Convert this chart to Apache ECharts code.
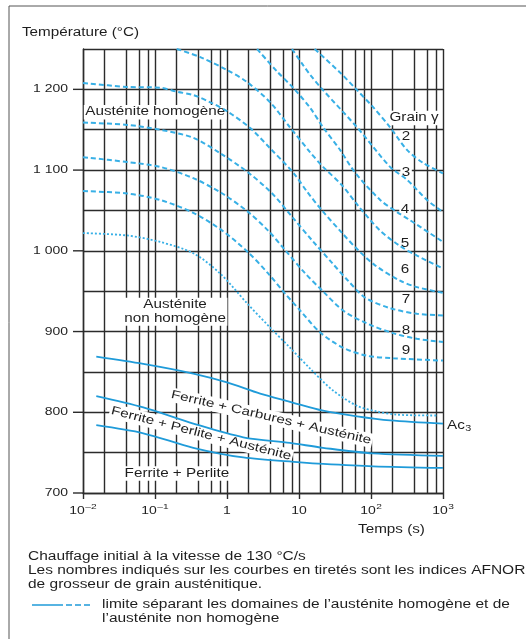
<!DOCTYPE html>
<html>
<head>
<meta charset="utf-8">
<script src="https://cdn.jsdelivr.net/npm/echarts@6/dist/echarts.min.js"></script>
<style>
html,body{margin:0;padding:0;background:#fff;}
#chart{width:526px;height:639px;}
</style>
</head>
<body>
<div id="chart"></div>
<script>
// ---------------- data ----------------
const yTickValues = [700, 800, 900, 1000, 1100, 1200];
const yTickLabels = ['700', '800', '900', '1 000', '1 100', '1 200'];
const xTickValues = [0.01, 0.1, 1, 10, 100, 1000];
const xTickBase = ['10', '10', '1', '10', '10', '10'];
const xTickExp = ['\u20132', '\u20131', '', '', '2', '3'];
const minorGridX = [0.02, 0.04, 0.06, 0.08, 0.2, 0.4, 0.6, 0.8, 2, 4, 6, 8, 20, 40, 60, 80, 200, 400, 600, 800];

// dashed curves: austenitic grain size index (AFNOR) - [time s, temperature °C]
const grainNames = ['2', '3', '4', '5', '6', '7', '8', '9'];
const grain2 = [[16.5,1250],[37,1221],[64,1199],[107,1178],[184,1153],[316,1125],[528,1109],[1000,1096]];
const grain3 = [[8.0,1250],[11.4,1230],[14.3,1218],[21.6,1199],[64,1153],[184,1104],[316,1088],[600,1063],[1000,1048]];
const grain4 = [[2.62,1250],[4.97,1222],[8.28,1202],[14.3,1177],[21.6,1153],[37.2,1125],[60,1097],[134,1063],[230,1048],[348,1038],[1000,1011]];
const grain5 = [[0.2,1250],[0.425,1240],[1.0,1224],[1.9,1209],[3.97,1184],[7.5,1153],[14.3,1122],[21.6,1104],[39.7,1081],[66,1056],[134,1025],[253,1006],[436,994],[1000,978]];
const grain6 = [[0.01,1208],[0.041,1203],[0.118,1202],[0.204,1197],[0.34,1193],[0.585,1184],[1.0,1173],[2.1,1152],[3.97,1127],[8.28,1097],[13,1073],[20.9,1050],[39.7,1022],[66,1001],[114,982],[253,963],[436,955],[1000,948]];
const grain7 = [[0.01,1159],[0.041,1156],[0.118,1150],[0.34,1140],[0.8,1121],[1.97,1097],[4.24,1071],[8.03,1042],[15.2,1013],[28.8,985],[48,963],[83,942],[184,929],[436,922],[1000,920]];
const grain8 = [[0.01,1116],[0.041,1110],[0.118,1104],[0.34,1090],[0.86,1071],[1.97,1048],[3.73,1025],[6.4,1001],[12.2,972],[20.9,951],[41,926],[88,910],[202,898],[436,891],[1000,887]];
const grain9 = [[0.01,1074],[0.041,1071],[0.118,1063],[0.34,1047],[0.86,1025],[1.97,998],[3.73,972],[6.4,947],[10.4,926],[19.6,899],[41,880],[88,870],[202,867],[1000,864]];
// dotted limit homogeneous / non-homogeneous austenite
const limitCurve = [[0.01,1022],[0.041,1019],[0.118,1011],[0.34,997],[0.8,972],[1.9,935],[3.97,905],[7.5,880],[14.3,854],[29.7,827],[64,808],[121,801],[230,797],[826,796]];
// solid phase boundaries
const ac3Curve = [[0.0153,869],[0.0687,860],[0.34,848],[1.0,837],[2.89,823],[7.5,813],[21.6,802],[64,795],[184,790],[1000,786]];
const fcaLower = [[0.0153,820],[0.0687,806],[0.34,786],[1.68,769],[7.5,762],[21.6,756],[107,749],[1000,746]];
const fpaLower = [[0.0153,784],[0.0687,774],[0.34,756],[1.68,744],[10.4,738],[21.6,736],[107,733],[1000,731]];

// ---------------- annotation texts (positions in data space) ----------------
const annotations = [
  {text: 'Austénite homogène', at: [0.1007, 1171.8]},
  {text: 'Grain \u03b3', at: [396, 1164.4]},
  {text: 'Austénite\nnon homogène', at: [0.19, 924.5]},
  {text: 'Ferrite + Carbures + Austénite', at: [4.1, 793.4], rot: -13},
  {text: 'Ferrite + Perlite + Austénite', at: [0.438, 773.6], rot: -14.4},
  {text: 'Ferrite + Perlite', at: [0.2015, 724.3]}
];
const grainLabelPos = [[307,1140.8],[307,1097.4],[297,1051.5],[297,1009.3],[297,977],[307,939.8],[307,901.4],[307,876.5]];

// ---------------- style ----------------
const SX = 1.27;
const FF = '"Liberation Sans", Arial, Helvetica, sans-serif';
const TXT = '#1e1e1e';
const GRID = '#2b2b2b';
const GW = 1.4;
const DASH_C = '#38b0e6';
const SOLID_C = '#1f9bd9';

const chart = echarts.init(document.getElementById('chart'), null, {renderer: 'canvas'});

function curve(data, type, color, width) {
  return {type: 'line', data: data, symbol: 'none', showSymbol: false, smooth: 0.3, zlevel: 1, z: 5,
    silent: true, animation: false, lineStyle: {color: color, width: width, type: type}};
}
const grains = [grain2, grain3, grain4, grain5, grain6, grain7, grain8, grain9];
const series = [];
series.push({type: 'line', data: [], z: 1, silent: true, animation: false,
  markLine: {silent: true, animation: false, symbol: ['none', 'none'], label: {show: false},
    lineStyle: {color: GRID, width: GW, type: 'solid'},
    emphasis: {disabled: true},
    data: minorGridX.map(v => ({xAxis: v}))}});
grains.forEach(g => series.push(curve(g, [5, 3], DASH_C, 2)));
series.push(curve(limitCurve, [2, 2], DASH_C, 1.8));
series.push(curve(ac3Curve, 'solid', SOLID_C, 1.8));
series.push(curve(fcaLower, 'solid', SOLID_C, 1.8));
series.push(curve(fpaLower, 'solid', SOLID_C, 1.8));

const option = {
  animation: false,
  backgroundColor: '#fff',
  grid: {left: 83, right: 83, top: 49, bottom: 146, containLabel: false},
  xAxis: {type: 'log', logBase: 10, min: 0.01, max: 1000,
    axisLine: {show: true, onZero: false, lineStyle: {color: GRID, width: GW}},
    axisTick: {show: true, inside: false, length: 6, lineStyle: {color: GRID, width: GW}},
    axisLabel: {show: false},
    splitLine: {show: true, lineStyle: {color: GRID, width: GW}}},
  yAxis: {type: 'value', min: 700, max: 1250, interval: 50,
    axisLine: {show: true, lineStyle: {color: GRID, width: GW}},
    axisTick: {show: false}, axisLabel: {show: false},
    splitLine: {show: true, lineStyle: {color: GRID, width: GW}}},
  series: series
};
chart.setOption(option);

// ---------------- text / decorations ----------------
const mctx = document.createElement('canvas').getContext('2d');
function W(str, size, sx) { mctx.font = size + 'px "Liberation Sans"'; return mctx.measureText(str).width * (sx || SX); }
function P(x, y) { return chart.convertToPixel({xAxisIndex: 0, yAxisIndex: 0}, [x, y]); }
function T(str, x, y, size, align, extraStyle, extra) {
  const st = {text: str, fontSize: size, fontFamily: FF, fill: TXT,
    align: align || 'left', verticalAlign: 'middle'};
  Object.assign(st, extraStyle || {});
  return Object.assign({type: 'text', x: x, y: y, scaleX: SX, scaleY: 1, zlevel: 1, z: 50, silent: true, style: st}, extra || {});
}
function L(x1, y1, x2, y2, color, w, dash) {
  return {type: 'line', zlevel: 1, z: 50, silent: true, shape: {x1: x1, y1: y1, x2: x2, y2: y2},
    style: {stroke: color, lineWidth: w, lineDash: dash || null}};
}
// white box behind a centred text (covers grid lines like the original)
function BOX(str, x, y, size, rot, padX, lh) {
  const lines = str.split('\n');
  const w = Math.max.apply(null, lines.map(s => W(s, size))) + 2 * padX;
  const h = lh * lines.length + 1;
  return {type: 'rect', x: x, y: y, rotation: rot || 0, zlevel: 1, z: 3, silent: true,
    shape: {x: -w / 2, y: -h / 2, width: w, height: h},
    style: {fill: '#fff', stroke: null}};
}

const g = [];
// frame
g.push(L(9, 6, 9, 639, '#555', 1));
g.push(L(9, 6, 526, 6, '#555', 1));
// title
g.push(T('Température (°C)', 22, 33, 12, 'left'));
// y ticks + labels
yTickValues.forEach((v, i) => {
  const c = P(0.01, v);
  g.push(L(c[0] - 10, c[1], c[0], c[1], GRID, GW));
  g.push(T(yTickLabels[i], c[0] - 15, c[1], 11, 'right'));
});
// x tick labels
xTickValues.forEach((v, i) => {
  const c = P(v, 700);
  const wb = W(xTickBase[i], 11), we = xTickExp[i] ? W(xTickExp[i], 8) + 0.5 : 0;
  const left = c[0] - (wb + we) / 2;
  g.push(T(xTickBase[i], left, c[1] + 18, 11, 'left'));
  if (xTickExp[i]) g.push(T(xTickExp[i], left + wb + 0.5, c[1] + 14, 8, 'left'));
});
g.push(T('Temps (s)', 391.5, 529.5, 12, 'center'));
// in-plot annotations
annotations.forEach(a => {
  const c = P(a.at[0], a.at[1]);
  const rot = (a.rot || 0) * Math.PI / 180;
  g.push(BOX(a.text, c[0], c[1], 12, rot, 1.5, 13.5));
  g.push(T(a.text, c[0], c[1], 12, 'center', {lineHeight: 14}, {z: 4, rotation: rot}));
});
grainNames.forEach((n, i) => {
  const c = P(grainLabelPos[i][0], grainLabelPos[i][1]);
  g.push(BOX(n, c[0], c[1], 12, 0, 1.5, 13));
  g.push(T(n, c[0], c[1], 12, 'center', null, {z: 4}));
});
// Ac3 label at the end of the Ac3 curve
(function () {
  const last = ac3Curve[ac3Curve.length - 1];
  const c = P(last[0], last[1]);
  g.push(T('Ac', c[0] + 4, c[1] + 2, 12, 'left'));
  g.push(T('3', c[0] + 4 + W('Ac', 12) + 0.5, c[1] + 5, 8.5, 'left'));
})();
// notes
const NSX = 1.29;
g.push(T('Chauffage initial à la vitesse de 130 °C/s', 28, 557, 12, 'left', null, {scaleX: NSX}));
g.push(T('Les nombres indiqués sur les courbes en tiretés sont les indices AFNOR', 28, 571, 12, 'left', null, {scaleX: NSX}));
g.push(T('de grosseur de grain austénitique.', 28, 584.5, 12, 'left', null, {scaleX: NSX}));
g.push(L(32, 605, 63, 605, SOLID_C, 1.5));
g.push(L(66, 605, 90, 605, SOLID_C, 1.5, [6, 3]));
g.push(T('limite séparant les domaines de l\u2019austénite homogène et de', 102, 605, 12, 'left', null, {scaleX: NSX}));
g.push(T('l\u2019austénite non homogène', 102, 619, 12, 'left', null, {scaleX: NSX}));

chart.setOption({graphic: {elements: g}});
</script>
</body>
</html>
